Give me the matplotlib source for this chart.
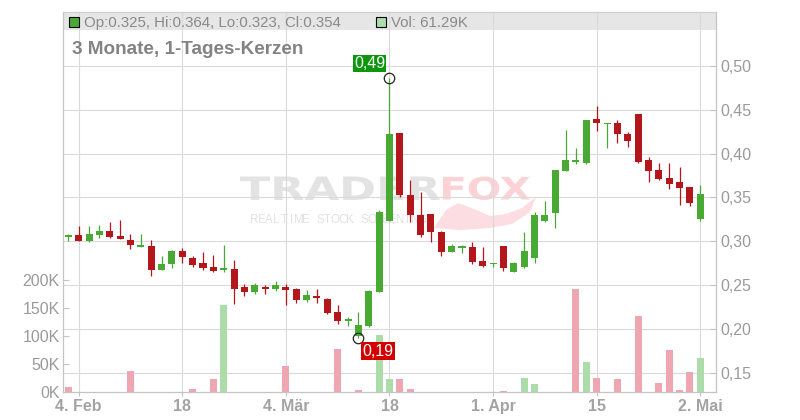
import matplotlib
matplotlib.use('Agg')
import matplotlib.pyplot as plt
import numpy as np
from matplotlib.textpath import TextPath
from matplotlib.patches import PathPatch, Rectangle
from matplotlib.path import Path
from matplotlib.font_manager import FontProperties
import matplotlib.transforms as mtrans
from matplotlib.ticker import FuncFormatter

plt.rcParams['font.family'] = ['Liberation Sans', 'DejaVu Sans']

# ---------------- data ----------------
tick_idx = [1, 11, 21, 31, 41, 51, 61]
tick_labels = ["4. Feb", "18", "4. Mär", "18", "1. Apr", "15", "2. Mai"]

opens = [0.3052, 0.3072, 0.3007, 0.3075, 0.3117, 0.3060, 0.3015, 0.2938, 0.2946, 0.2673,
         0.2741, 0.2889, 0.2810, 0.2753, 0.2707, 0.2677, 0.2685, 0.2480, 0.2426, 0.2483,
         0.2460, 0.2480, 0.2457, 0.2335, 0.2380, 0.2346, 0.2198, 0.2096, 0.1920, 0.2039,
         0.2419, 0.3235, 0.4233, 0.3527, 0.3300, 0.3309, 0.3106, 0.2882, 0.2920, 0.2932,
         0.2776, 0.2738, 0.2950, 0.2654, 0.2711, 0.2813, 0.3235, 0.3326, 0.3804, 0.3907,
         0.3895, 0.4393, 0.4333, 0.4347, 0.4222, 0.4450, 0.3926, 0.3812, 0.3721, 0.3675,
         0.3618, 0.325]
highs = [0.3083, 0.3174, 0.3174, 0.3186, 0.3220, 0.3243, 0.3083, 0.3083, 0.3015, 0.2833,
         0.2901, 0.2924, 0.2833, 0.2878, 0.2844, 0.2958, 0.2787, 0.2514, 0.2525, 0.2502,
         0.2548, 0.2514, 0.2469, 0.2446, 0.2457, 0.2358, 0.2278, 0.2141, 0.2191, 0.2445,
         0.3356, 0.486, 0.4233, 0.3698, 0.3558, 0.3309, 0.3118, 0.2969, 0.2958, 0.2990,
         0.2939, 0.2756, 0.2950, 0.2768, 0.3106, 0.3334, 0.3459, 0.3812, 0.4268, 0.4059,
         0.4381, 0.4541, 0.4347, 0.4381, 0.4245, 0.4450, 0.3957, 0.3888, 0.3888, 0.3843,
         0.3618, 0.364]
lows = [0.3007, 0.3007, 0.2995, 0.3041, 0.3038, 0.3023, 0.2916, 0.2938, 0.2608, 0.2673,
        0.2699, 0.2753, 0.2711, 0.2677, 0.2654, 0.2654, 0.2289, 0.2380, 0.2403, 0.2403,
        0.2437, 0.2278, 0.2301, 0.2312, 0.2301, 0.2172, 0.2062, 0.2038, 0.1900, 0.2027,
        0.2419, 0.3235, 0.3501, 0.3216, 0.3046, 0.2995, 0.2836, 0.2874, 0.2871, 0.2738,
        0.2704, 0.2704, 0.2665, 0.2654, 0.2699, 0.2756, 0.3215, 0.3155, 0.3804, 0.3877,
        0.3877, 0.4260, 0.4059, 0.4116, 0.4078, 0.3895, 0.3679, 0.3698, 0.3599, 0.3413,
        0.3402, 0.323]
closes = [0.3072, 0.3007, 0.3083, 0.3117, 0.3049, 0.3030, 0.2954, 0.2958, 0.2673, 0.2741,
          0.2889, 0.2821, 0.2730, 0.2699, 0.2665, 0.2688, 0.2460, 0.2426, 0.2502, 0.2460,
          0.2502, 0.2449, 0.2335, 0.2389, 0.2358, 0.2183, 0.2095, 0.2115, 0.2047, 0.2434,
          0.3330, 0.4222, 0.3527, 0.3300, 0.3075, 0.3109, 0.2882, 0.2950, 0.2950, 0.2768,
          0.2722, 0.2756, 0.2699, 0.2756, 0.2889, 0.3300, 0.3300, 0.3812, 0.3926, 0.3918,
          0.4381, 0.4351, 0.4347, 0.4219, 0.4146, 0.3907, 0.3804, 0.3713, 0.3656, 0.3611,
          0.3436, 0.354]
volumes = [8900, 0, 0, 0, 0, 0, 38000, 0, 0, 0,
           0, 0, 5900, 0, 23800, 155400, 0, 0, 0, 0,
           0, 47000, 0, 0, 0, 0, 76800, 0, 3600, 0,
           101800, 23200, 23200, 5400, 0, 0, 0, 0, 0, 0,
           0, 0, 1800, 0, 25600, 14800, 0, 0, 0, 184000,
           53600, 25600, 0, 23200, 0, 135700, 0, 16000, 75000, 3600,
           35700, 61290]
prev_close_first = 0.310

price_ticks = [0.15, 0.20, 0.25, 0.30, 0.35, 0.40, 0.45, 0.50]
vol_ticks = [0, 50000, 100000, 150000, 200000]

# ---------------- style ----------------
RED = '#b3161b'
GREEN = '#48aa33'
VRED = '#eea7b0'
VGREEN = '#abdcaa'
GRID = '#dadada'
AXC = '#c4c4c4'
LBL = '#9a9a9a'

W, H = 800, 420
L, R, B, T = 63, 716, 392, 12
fig = plt.figure(figsize=(W / 100, H / 100), dpi=100)
ax = fig.add_axes([L / W, (H - B) / H, (R - L) / W, (B - T) / H])
axv = ax.twinx()

n = len(opens)
x = np.arange(n)
o = np.array(opens); c = np.array(closes); hi = np.array(highs); lo = np.array(lows)
up = c >= o
cols = [GREEN if u else RED for u in up]

# header band
band_frac = (B - 30) / (B - T)
ax.add_patch(Rectangle((0, band_frac), 1, 1 - band_frac, transform=ax.transAxes,
                       facecolor='#e6e6e6', edgecolor='none', zorder=0.2))

# watermark
ident = mtrans.IdentityTransform()
def stretched(s, x0, x1, ytop0, ytop1, color):
    tp = TextPath((0, 0), s, size=100, prop=FontProperties(family='DejaVu Sans', weight='bold'))
    bb = tp.get_extents()
    y0, y1 = H - ytop1, H - ytop0
    tr = mtrans.Affine2D().translate(-bb.x0, -bb.y0).scale((x1 - x0) / bb.width,
                                                           (y1 - y0) / bb.height).translate(x0, y0)
    p = PathPatch(tr.transform_path(tp), facecolor=color, edgecolor='none',
                  transform=ident, zorder=0.3)
    ax.add_artist(p)

stretched("TRADER", 240, 440, 176.5, 200, '#e3e3e3')
stretched("FOX", 443, 530, 176.5, 200, '#fbd3d7')
# fox tail swoosh
tail = [(434, 228), (446, 210), (458, 203), (466, 206), (474, 209), (490, 216),
        (506, 214), (522, 208), (536, 197), (530, 212), (512, 224), (490, 228), (460, 230), (434, 228)]
ax.add_artist(PathPatch(Path([(px, H - py) for px, py in tail], closed=True),
                        facecolor='#fcdde1', edgecolor='none', transform=ident, zorder=0.3))
sub = "REALTIME STOCK SCREENING"
cw = 175 / len(sub)
for k, ch in enumerate(sub):
    ax.text(251 + (k + 0.5) * cw, H - 223.3, ch, transform=ident, ha='center', va='baseline',
            fontsize=8.3, color='#e2e2e2', zorder=0.3)

# candles
ax.vlines(x, lo, hi, colors=cols, linewidth=0.9, zorder=2)
bottoms = np.minimum(o, c)
heights = np.maximum(np.abs(c - o), 0.0015)
ax.bar(x, heights, bottom=bottoms, width=0.68, color=cols, linewidth=0, zorder=3)

ax.set_xlim(-0.512, 62.515)
ax.set_ylim(0.1284, 0.5612)
ax.set_axisbelow(True)
ax.grid(True, color=GRID, linewidth=0.8)

ax.set_yticks(price_ticks)
ax.yaxis.set_major_formatter(FuncFormatter(lambda v, p: f"{v:.2f}".replace('.', ',')))
ax.set_xticks(tick_idx)
ax.set_xticklabels(tick_labels)
for t in ax.get_xticklabels():
    t.set_fontweight('bold')
ax.tick_params(axis='x', direction='out', length=3, color=AXC, labelcolor='#a3a3a3',
               labelsize=11.5, pad=2)
for s in ['left', 'right', 'bottom', 'top']:
    ax.spines[s].set_color(AXC)
    ax.spines[s].set_linewidth(0.9)
ax.spines['top'].set_color('#d0d0d0')

# volume
prev = np.concatenate([[prev_close_first], c[:-1]])
vcols = [VGREEN if cc >= pp else VRED for cc, pp in zip(c, prev)]
axv.bar(x, volumes, width=0.68, color=vcols, linewidth=0, zorder=2)
axv.set_ylim(0, (B - T) / 28 * 50000)
axv.set_yticks(vol_ticks)
axv.yaxis.set_major_formatter(FuncFormatter(lambda v, p: f"{int(v / 1000)}K"))
for s in axv.spines.values():
    s.set_visible(False)

# tick sides (after twinx)
ax.yaxis.set_ticks_position('right')
ax.yaxis.set_label_position('right')
ax.tick_params(axis='y', direction='in', length=4, color=AXC, labelcolor=LBL,
               labelsize=11.5, pad=3, left=False, right=True, labelleft=False, labelright=True)
axv.yaxis.set_ticks_position('left')
axv.yaxis.set_label_position('left')
axv.tick_params(axis='y', direction='in', length=4, color=AXC, labelcolor=LBL,
                labelsize=11.5, pad=2.5, left=True, right=False, labelleft=True, labelright=False)

# high / low markers
ihi = int(np.argmax(hi)); ilo = int(np.argmin(lo))
for idx, val, fc, off in [(ihi, hi[ihi], '#0b960b', (-14.3, 10.6)),
                          (ilo, lo[ilo], '#d40000', (14.3, -9.6))]:
    axv.plot([idx], [val], 'o', transform=ax.transData, mfc='none', mec='#222222',
             ms=7.5, mew=0.9, zorder=6)
    axv.annotate(f"{val:.2f}".replace('.', ','), xy=(idx, val), xycoords=ax.transData,
                 xytext=off, textcoords='offset points', ha='center', va='center',
                 color='white', fontsize=11.5, zorder=7,
                 bbox=dict(boxstyle='square,pad=0.08', fc=fc, ec='none'))

# header legend
fig.add_artist(Rectangle((68.5 / W, 1 - 26.7 / H), 10 / W, 10 / H, transform=fig.transFigure,
                         facecolor=GREEN, edgecolor='black', linewidth=0.8))
fig.text(84 / W, 1 - 26.7 / H,
         f"Op:{opens[-1]:.3f}, Hi:{highs[-1]:.3f}, Lo:{lows[-1]:.3f}, Cl:{closes[-1]:.3f}",
         fontsize=10.8, color='#8a8a8a', va='baseline', ha='left')
fig.add_artist(Rectangle((375.5 / W, 1 - 26.7 / H), 10 / W, 10 / H, transform=fig.transFigure,
                         facecolor=VGREEN, edgecolor='black', linewidth=0.8))
fig.text(391 / W, 1 - 26.7 / H, f"Vol: {volumes[-1] / 1000:.2f}K",
         fontsize=10.8, color='#8a8a8a', va='baseline', ha='left')
fig.text(72 / W, 1 - 54 / H, "3 Monate, 1-Tages-Kerzen", fontsize=13.6, fontweight='bold',
         color='#838383', va='baseline', ha='left')

fig.savefig('out.png', dpi=100)
